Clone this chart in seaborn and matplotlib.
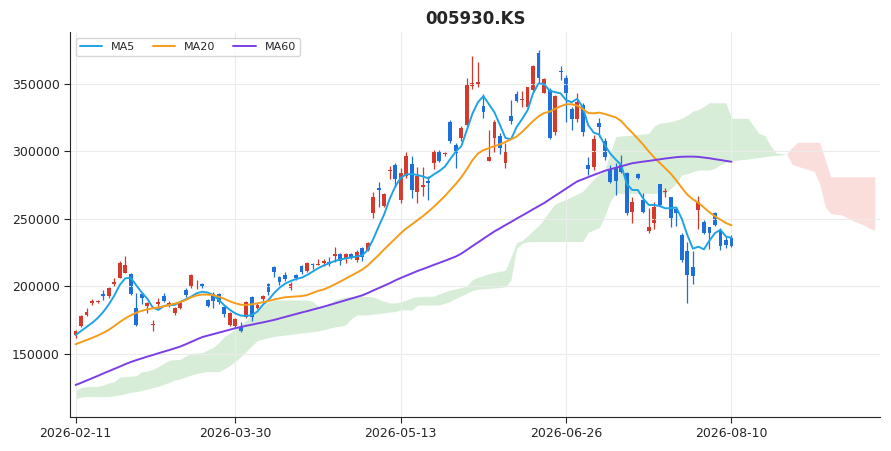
import numpy as np
import pandas as pd
import matplotlib
matplotlib.use("Agg")
import matplotlib.pyplot as plt
import seaborn as sns

title = "005930.KS"
tick_labels = ["2026-02-11", "2026-03-30", "2026-05-13", "2026-06-26", "2026-08-10"]

opens = [163700, 170700, 178900, 187800, 188800, 194200, 193000, 201800, 206500, 210200,
         209000, 184400, 194400, 185600, 171500, 187000, 193200, 186300, 180100, 184400,
         197400, 200600, 199600, 201800, 190000, 194200, 194200, 185000, 171500, 170700,
         170200, 177600, 192500, 184400, 190700, 201800, 214200, 207000, 208500, 198900,
         208300, 214800, 211500, 216700, 216000, 217400, 217900, 222600, 223800, 220800,
         223800, 219600, 228300, 227000, 254200, 272700, 259600, 285500, 290000, 264100,
         281600, 290700, 269800, 274000, 278000, 291200, 300100, 297900, 322000, 304800,
         309700, 319600, 348800, 349900, 333700, 293200, 310300, 311700, 291200, 326300,
         342300, 338000, 332600, 345500, 373300, 343000, 345500, 314700, 359400, 354200,
         331500, 323800, 334400, 290000, 288800, 320800, 307400, 286300, 288800, 290000,
         284300, 255400, 283100, 264100, 241100, 247300, 275900, 269800, 266000, 257100,
         238100, 226500, 214200, 256700, 248000, 244300, 254200, 241800, 234400, 235600]
highs = [167800, 178900, 184000, 190500, 190000, 197400, 199900, 206000, 219100, 222600,
         209800, 195000, 196100, 188800, 175200, 191200, 195000, 189300, 184600, 188800,
         198500, 209100, 204800, 202500, 190700, 195700, 195000, 185800, 181300, 176400,
         173900, 189500, 193200, 187500, 194000, 202300, 215200, 207800, 210500, 203100,
         209500, 215900, 218300, 217500, 220300, 220000, 222100, 229000, 224500, 225000,
         224600, 227200, 229500, 233000, 270200, 277600, 269500, 289000, 291700, 287500,
         299300, 296700, 288300, 288300, 281500, 301100, 301100, 299500, 323300, 306100,
         319000, 354200, 370500, 366500, 342300, 315900, 323300, 313500, 306100, 338100,
         344800, 344800, 348100, 363700, 375200, 354500, 346800, 342000, 363000, 356700,
         333200, 343000, 335700, 296200, 312200, 324600, 309700, 290000, 291200, 297400,
         285000, 266500, 283800, 269000, 257900, 262800, 276000, 272700, 266500, 259100,
         239400, 233200, 226000, 267000, 249300, 244300, 254900, 243500, 236900, 238100]
lows = [161800, 170000, 178100, 186300, 188000, 190000, 191700, 200600, 206000, 209800,
        193700, 171000, 186800, 180100, 167000, 183300, 188800, 185000, 178900, 183600,
        192000, 198600, 198400, 199000, 184600, 184400, 187000, 177600, 171000, 169400,
        166100, 176900, 174400, 183100, 189500, 193700, 207300, 201100, 204400, 197400,
        204800, 209000, 210800, 213300, 215600, 214800, 214800, 218400, 215700, 217600,
        220100, 218400, 218900, 226000, 250500, 259100, 258800, 279300, 274000, 261600,
        280400, 265300, 261600, 266700, 264100, 287000, 292000, 297000, 306600, 287500,
        307500, 318900, 346000, 348000, 324600, 292600, 299800, 298100, 287500, 320100,
        336800, 332600, 331900, 345000, 350500, 343000, 309200, 312000, 353000, 322100,
        315900, 322100, 311500, 282600, 286300, 311000, 293700, 276400, 267800, 283800,
        253000, 246700, 279300, 254200, 239300, 242300, 259800, 266500, 244300, 244800,
        218400, 188000, 201800, 242300, 238900, 227500, 244800, 227000, 228300, 229000]
closes = [167000, 178300, 181100, 189000, 189500, 193200, 198900, 203600, 217600, 215900,
          194400, 171500, 191200, 187600, 172200, 188300, 189500, 187600, 183800, 188100,
          193700, 208500, 200600, 199900, 185600, 189500, 188800, 179600, 180100, 175700,
          167300, 188800, 177600, 186300, 193200, 196100, 210500, 203600, 205600, 201800,
          206300, 210700, 217200, 215700, 216800, 218900, 216700, 224300, 218900, 223800,
          220800, 225800, 222000, 232000, 266500, 271700, 268500, 286000, 279300, 284300,
          296400, 271500, 281600, 275200, 276300, 299300, 292600, 298600, 307400, 299000,
          317700, 349300, 350500, 351400, 329500, 296200, 322100, 302900, 299300, 322600,
          337600, 339000, 347400, 363000, 354800, 353700, 309700, 341100, 358600, 343000,
          323800, 336900, 314600, 286800, 309000, 318300, 296200, 277700, 278400, 285000,
          254200, 262800, 280100, 255400, 244300, 259100, 260400, 270500, 250500, 254200,
          219600, 208500, 207500, 262800, 239800, 239800, 245500, 230000, 230700, 230000]

ma5 = [164000, 167000, 170000, 173000, 176500, 181000, 186500, 193000, 201000, 206000,
       206500, 201000, 195500, 191000, 184500, 182600, 185500, 186300, 186300, 188500,
       190500, 192500, 195000, 196100, 195500, 193500, 190000, 186000, 182600, 180000,
       178400, 178200, 178800, 181500, 186500, 190000, 195000, 199000, 202000, 204000,
       205500, 206500, 208500, 211000, 213500, 215500, 217200, 218800, 220000, 220800,
       221500, 222300, 223000, 227000, 235000, 244500, 253500, 265000, 274000, 280500,
       283000, 283300, 282600, 281500, 280100, 283000, 285500, 288800, 294500, 300000,
       304000, 316000, 328000, 336500, 341000, 335000, 329000, 319500, 310000, 309000,
       318000, 324000, 330500, 343000, 350500, 350000, 345000, 344000, 343000, 338000,
       336500, 339000, 333000, 319500, 314000, 312500, 305000, 298500, 294000, 290000,
       276000, 271500, 271500, 265000, 260400, 260400, 259500, 257900, 258000, 258500,
       250000, 238000, 228000, 229500, 227500, 234000, 239500, 242000, 237000, 236000]
ma20 = [157200, 158700, 160300, 161900, 163600, 165600, 167800, 170600, 173600, 176300,
        178600, 180500, 182000, 183000, 183800, 184500, 185300, 186300, 187300, 188400,
        190000, 192000, 193400, 194000, 194000, 193500, 192400, 190800, 189000, 187500,
        186500, 186300, 186800, 187500, 188300, 189300, 190300, 191200, 192000, 192300,
        192600, 192900, 193600, 195200, 196700, 197800, 199500, 201500, 203600, 205800,
        208000, 210200, 212500, 215500, 219500, 223300, 227500, 231500, 235500, 239500,
        243000, 246000, 249000, 252000, 255500, 259000, 263000, 267000, 271500, 276000,
        281000, 287000, 293500, 298500, 301000, 302500, 304000, 305300, 307000, 309000,
        311000, 314500, 318500, 322500, 326000, 328500, 329500, 331500, 333500, 335000,
        335000, 334000, 331500, 328500, 328300, 328800, 327800, 326500, 325300, 322500,
        318000, 313800, 309500, 305000, 300000, 295500, 291500, 287500, 283500, 278500,
        273000, 268000, 264500, 262000, 258500, 255000, 252000, 249500, 247000, 245300]
ma60 = [127000, 128600, 130300, 132000, 133700, 135500, 137200, 138900, 140600, 142400,
        144000, 145400, 146700, 148000, 149200, 150500, 151700, 152900, 154200, 155500,
        157200, 159000, 160800, 162500, 163600, 164700, 165800, 166900, 168000, 169100,
        170000, 170900, 171700, 172600, 173400, 174300, 175200, 176300, 177400, 178500,
        179600, 180700, 181700, 182800, 183900, 185000, 186200, 187400, 188600, 189800,
        191000, 192200, 193400, 195100, 197000, 198800, 200600, 202400, 204500, 206300,
        208000, 209700, 211400, 212900, 214400, 216000, 217500, 219000, 220600, 222200,
        224400, 227100, 229900, 232600, 235400, 238100, 240800, 243100, 245500, 247800,
        250200, 252500, 254800, 257200, 259500, 261800, 264500, 267200, 269800, 272500,
        275200, 277800, 279400, 281000, 282600, 284100, 285700, 286800, 287900, 289000,
        290200, 291300, 291900, 292500, 293000, 293600, 294200, 294800, 295300, 295800,
        296100, 296200, 296200, 296000, 295500, 295000, 294300, 293700, 293000, 292400]

# ichimoku spans, already shifted 26 bars ahead
span_a = [123300, 125000, 125800, 126000, 126000, 127000, 128500, 129500, 133000, 133300,
          133500, 133800, 136900, 137300, 138500, 140500, 143000, 145400, 145800, 146000,
          148500, 150500, 150800, 151000, 153000, 155000, 158500, 163000, 165500, 168500,
          172000, 175000, 179500, 183000, 186000, 188500, 190000, 190000, 190000, 190000,
          190000, 190000, 190000, 189000, 185500, 184500, 186500, 190000, 191000, 192300,
          192500, 192700, 192800, 192600, 192200, 190500, 189000, 187800, 187800, 188500,
          190000, 191500, 192400, 192600, 192800, 192800, 194500, 196000, 197400, 198300,
          199200, 200500, 205000, 206800, 208200, 209500, 210500, 211300, 212000, 222000,
          232500, 234000, 237500, 241500, 245000, 250000, 256000, 261000, 263000, 264500,
          266500, 268500, 270500, 275000, 279500, 283000, 286000, 299000, 311000, 311500,
          311800, 312200, 312600, 313000, 313400, 319000, 321000, 321500, 322100, 323300,
          324600, 327000, 330000, 331000, 333500, 336100, 336100, 336100, 336100, 324600,
          324600, 324600, 324600, 319000, 313400, 312000, 305000, 299000, 298500, 298100,
          290500, 289000, 287700, 286500, 285200, 276000, 259000, 254000, 253500, 253000,
          251000, 248800, 247200, 245600, 243000, 241500]
span_b = [116700, 118000, 118400, 118400, 118400, 118400, 118400, 119000, 119600, 120500,
          121500, 122100, 123000, 124000, 125000, 125800, 127500, 129000, 130700, 131500,
          133000, 134400, 135500, 136500, 136900, 136900, 136900, 139000, 141500, 144500,
          148000, 152000, 156000, 160000, 161000, 162000, 163000, 163500, 164000, 164500,
          165000, 165500, 166000, 166500, 167000, 168000, 169000, 170000, 170500, 171500,
          176000, 178900, 178900, 178900, 179500, 180000, 180500, 181000, 181500, 182600,
          182600, 182600, 186000, 186300, 186300, 186300, 186300, 187500, 189000, 191200,
          193000, 195000, 197000, 198000, 198300, 198600, 198800, 199300, 199700, 205000,
          228000, 232000, 233000, 233200, 233200, 233200, 233200, 233200, 233200, 233200,
          233200, 233200, 233200, 240000, 242000, 243500, 252000, 263000, 269000, 269000,
          269000, 269000, 269000, 269000, 269000, 269000, 269000, 269000, 272500, 276400,
          282600, 283500, 285000, 286300, 286300, 286300, 287500, 290000, 292000, 293200,
          293500, 294000, 294400, 295000, 295500, 296200, 296600, 297000, 297500, 298100,
          303000, 306800, 306800, 306800, 306800, 306800, 294000, 281300, 281300, 281300,
          281300, 281300, 281300, 281300, 281300, 281300]

df = pd.DataFrame({"open": opens, "high": highs, "low": lows, "close": closes,
                   "MA5": ma5, "MA20": ma20, "MA60": ma60})
df["idx"] = np.arange(len(df))
cloud = pd.DataFrame({"idx": np.arange(len(span_a)), "a": span_a, "b": span_b})

up_color = "#d33a2c"
down_color = "#1e6fd9"

sns.set_style("ticks")
fig, ax = plt.subplots(figsize=(8.91, 4.51), dpi=100)
fig.subplots_adjust(left=0.0786, right=0.988, bottom=0.0754, top=0.929)

ax.fill_between(cloud["idx"], cloud["a"], cloud["b"], where=cloud["a"] >= cloud["b"],
                color="#2ca02c", alpha=0.18, linewidth=0, interpolate=True)
ax.fill_between(cloud["idx"], cloud["a"], cloud["b"], where=cloud["a"] < cloud["b"],
                color="#e74c3c", alpha=0.18, linewidth=0, interpolate=True)

up = df["close"] >= df["open"]
for sub, col in [(df[up], up_color), (df[~up], down_color)]:
    ax.vlines(sub["idx"], sub["low"], sub["high"], color=col, linewidth=0.9)
    body = (sub["close"] - sub["open"]).abs().clip(lower=600)
    ax.bar(sub["idx"], body, bottom=np.minimum(sub["open"], sub["close"]),
           width=0.7, color=col, linewidth=0)

sns.lineplot(data=df, x="idx", y="MA5", color="#1fa3e6", linewidth=1.4, label="MA5", ax=ax)
sns.lineplot(data=df, x="idx", y="MA20", color="#f59c1a", linewidth=1.4, label="MA20", ax=ax)
sns.lineplot(data=df, x="idx", y="MA60", color="#7b3fe4", linewidth=1.4, label="MA60", ax=ax)

ax.set_xlim(-1, len(span_a))
ax.set_ylim(103300, 388500)
ax.set_xticks(np.linspace(0, len(df) - 1, 5).astype(int))
ax.set_xticklabels(tick_labels)
ax.set_yticks([150000, 200000, 250000, 300000, 350000])
ax.tick_params(labelsize=9, length=4)
ax.set_xlabel("")
ax.set_ylabel("")
ax.grid(True, color="#ebebeb", linewidth=0.8)
ax.set_axisbelow("line")
sns.despine(ax=ax)
ax.set_title(title, fontsize=12, fontweight="bold")
ax.legend(loc="upper left", ncol=3, fontsize=8, frameon=True, edgecolor="#cccccc",
          columnspacing=1.6)

plt.savefig("out.png", dpi=100)
